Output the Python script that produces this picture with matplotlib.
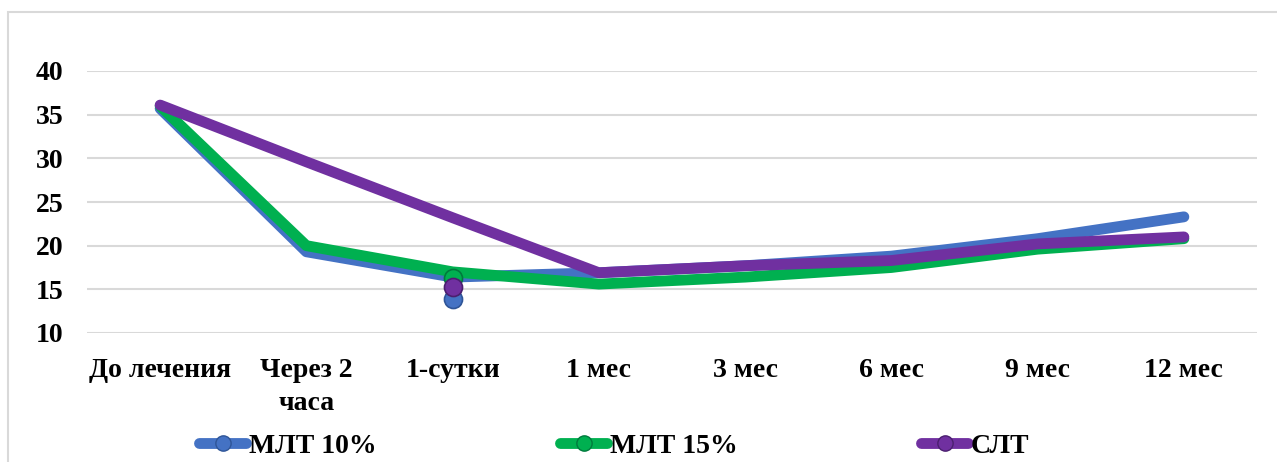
import numpy as np
import matplotlib.pyplot as plt
from matplotlib.lines import Line2D

# --- données ---
categories = ["До лечения", "Через 2\nчаса", "1-сутки", "1 мес", "3 мес", "6 мес", "9 мес", "12 мес"]
mlt10 = [35.7, 19.3, 16.4, 16.9, 17.7, 18.8, 20.8, 23.3]
mlt15 = [36.0, 20.0, 17.0, 15.6, 16.4, 17.5, 19.6, 20.8]
slt = [36.1, 29.6, 23.2, 16.9, 17.7, 18.3, 20.2, 21.0]
series_names = ["МЛТ 10%", "МЛТ 15%", "СЛТ"]
colors = ["#4472C4", "#00B050", "#7030A0"]
edge_colors = ["#2F5597", "#007A3D", "#4B1F6F"]

# marqueurs isolés visibles sur "1-сутки"
stray_idx = 2
stray_vals = [13.9, 16.3, 15.3]

yticks = [10, 15, 20, 25, 30, 35, 40]

plt.rcParams['font.family'] = ['Liberation Serif', 'DejaVu Serif']
plt.rcParams['font.weight'] = 'bold'

fig = plt.figure(figsize=(12.77, 4.62), dpi=100)
ax = fig.add_axes([87 / 1277, 1 - 333 / 462, 1170 / 1277, 262 / 462])

x = np.arange(len(categories))
for vals, col in zip([mlt10, mlt15, slt], colors):
    ax.plot(x, vals, color=col, lw=7.8, solid_capstyle='round', solid_joinstyle='round',
            clip_on=False, zorder=3)

for v, col, ec in zip(stray_vals, colors, edge_colors):
    ax.plot([x[stray_idx]], [v], 'o', color=col, ms=13, mec=ec, mew=1.2, zorder=4, clip_on=False)

ax.set_xlim(-0.5, len(categories) - 0.5)
ax.set_ylim(10, 40)
ax.set_yticks(yticks)
ax.set_xticks(x)
ax.set_xticklabels(categories, fontsize=20, fontweight='bold', linespacing=1.4)
ax.tick_params(axis='y', labelsize=20, length=0, pad=17)
ax.tick_params(axis='x', length=0, pad=18)
for lab in ax.get_yticklabels():
    lab.set_fontweight('bold')
ax.grid(axis='y', color='#D9D9D9', lw=1.5)
ax.set_axisbelow(True)
for s in ax.spines.values():
    s.set_visible(False)

# cadre du graphique
frame = plt.Rectangle((8 / 1277, -0.05), 1.1, 1 - 12 / 462 + 0.05, transform=fig.transFigure,
                      fill=False, ec='#D9D9D9', lw=1.5)
fig.add_artist(frame)

handles = [Line2D([0], [0], color=c, lw=7.8, marker='o', ms=11, mfc=c, mec=ec,
                  solid_capstyle='round') for c, ec in zip(colors, edge_colors)]
fig.legend(handles, series_names, loc='lower center', bbox_to_anchor=(0.481, -0.047), ncol=3,
           frameon=False, prop={'size': 20, 'weight': 'bold'}, handlelength=1.7,
           handletextpad=0.1, columnspacing=6.6)

fig.savefig("out.png", dpi=100)
